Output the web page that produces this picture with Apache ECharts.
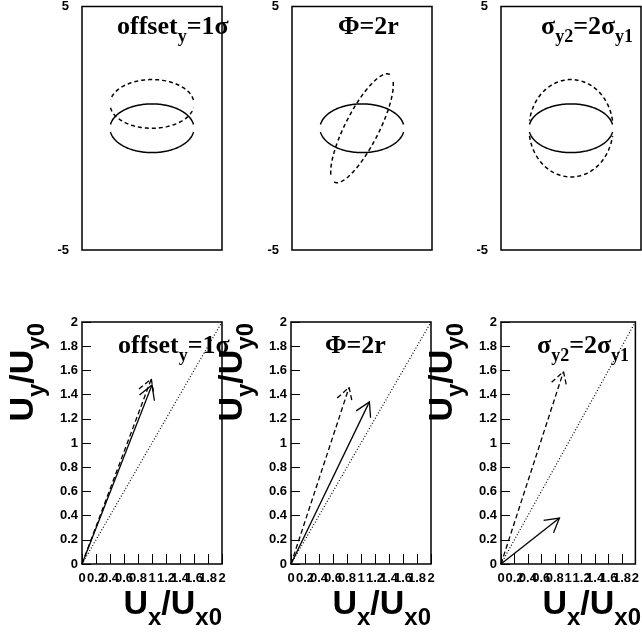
<!DOCTYPE html>
<html><head><meta charset="utf-8">
<script src="https://cdn.jsdelivr.net/npm/echarts@6/dist/echarts.min.js"></script>
<style>html,body{margin:0;padding:0;background:#fff}#c{width:642px;height:635px}</style>
</head><body><div id="c"></div>
<script>
// ---- data ----
const panelTitles = ['{m|offset}{s|y}{m|=1σ}', '{m|Φ=2r}', '{m|σ}{s|y2}{m|=2σ}{s|y1}'];
// ellipses: [centerX, centerY, sigmaX, sigmaY, angleDeg]
const ellipseSolid  = [[0, 0, 3, 1, 0], [0, 0, 3, 1, 0],  [0, 0, 3, 1, 0]];
const ellipseDashed = [[0, 1, 3, 1, 0], [0, 0, 3, 1, 45], [0, 0, 3, 2, 0]];
// arrows: [x0, y0, x1, y1]
const arrowSolid  = [[0, 0, 1.00, 1.48], [0, 0, 1.12, 1.34], [0, 0, 0.87, 0.38]];
const arrowDashed = [[0, 0, 0.99, 1.53], [0, 0, 0.83, 1.46], [0, 0, 0.93, 1.59]];
const diagonal = [[0, 0], [2, 2]];
const topRange = [-5, 5];
const bottomRange = [0, 2];
const bottomStep = 0.2;

// ---- layout ----
const topLefts = [82, 292, 501];
const botLefts = [82, 291, 501];
const PW = 140;
const labelPos = [[117, 14], [338, 14], [541, 14], [118, 333], [325, 333], [537, 333]];
const sans = 'Liberation Sans';
const serif = 'Liberation Serif';

const grids = [], xAxes = [], yAxes = [], series = [], graphics = [];
const GAP = 9;
function ellipseRender(dashed) {
  return function (params, api) {
    const cx = api.value(0), cy = api.value(1), sx = api.value(2), sy = api.value(3);
    const ang = api.value(4) * Math.PI / 180;
    const arcs = [[GAP, 180 - GAP], [180 + GAP, 360 - GAP]];
    const children = arcs.map(function (a) {
      const pts = [];
      for (let d = a[0]; d <= a[1] + 1e-9; d += 2) {
        const t = d * Math.PI / 180;
        const lx = sx * Math.cos(t), ly = sy * Math.sin(t);
        pts.push(api.coord([cx + lx * Math.cos(ang) - ly * Math.sin(ang), cy + lx * Math.sin(ang) + ly * Math.cos(ang)]));
      }
      return { type: 'polyline', shape: { points: pts },
        style: { stroke: '#000', fill: 'none', lineWidth: 1.5, lineDash: dashed ? [4, 3] : null } };
    });
    return { type: 'group', children: children };
  };
}
function arrowRender(dashed) {
  return function (params, api) {
    const p0 = api.coord([api.value(0), api.value(1)]);
    const p1 = api.coord([api.value(2), api.value(3)]);
    let dx = p0[0] - p1[0], dy = p0[1] - p1[1];
    const len = Math.hypot(dx, dy); dx /= len; dy /= len;
    const L = 16, a = 30 * Math.PI / 180;
    const b1 = [p1[0] + L * (dx * Math.cos(a) - dy * Math.sin(a)), p1[1] + L * (dx * Math.sin(a) + dy * Math.cos(a))];
    const b2 = [p1[0] + L * (dx * Math.cos(-a) - dy * Math.sin(-a)), p1[1] + L * (dx * Math.sin(-a) + dy * Math.cos(-a))];
    const st = { stroke: '#000', fill: 'none', lineWidth: 1.3, lineDash: dashed ? [5, 3] : null };
    return { type: 'group', children: [
      { type: 'line', shape: { x1: p0[0], y1: p0[1], x2: p1[0], y2: p1[1] }, style: st },
      { type: 'polyline', shape: { points: [b1, p1, b2] }, style: st }
    ] };
  };
}

for (let i = 0; i < 3; i++) {
  grids.push({ left: topLefts[i], top: 6, width: PW, height: 244, show: true, borderColor: '#000', borderWidth: 1.5, backgroundColor: 'transparent' });
  xAxes.push({ type: 'value', gridIndex: i, min: topRange[0], max: topRange[1], axisLine: { show: false }, axisTick: { show: false }, axisLabel: { show: false }, splitLine: { show: false } });
  yAxes.push({ type: 'value', gridIndex: i, min: topRange[0], max: topRange[1], interval: 10,
    axisLine: { show: false }, axisTick: { show: false }, splitLine: { show: false },
    axisLabel: { margin: 13, color: '#000', fontFamily: sans, fontWeight: 'bold', fontSize: 13 } });
  series.push({ type: 'custom', xAxisIndex: i, yAxisIndex: i, renderItem: ellipseRender(false), data: [ellipseSolid[i]], silent: true });
  series.push({ type: 'custom', xAxisIndex: i, yAxisIndex: i, renderItem: ellipseRender(true), data: [ellipseDashed[i]], silent: true });
}
for (let i = 0; i < 3; i++) {
  const gi = 3 + i;
  grids.push({ left: botLefts[i], top: 322, width: PW, height: 242, show: true, borderColor: '#000', borderWidth: 1.5, backgroundColor: 'transparent' });
  xAxes.push({ type: 'value', gridIndex: gi, min: bottomRange[0], max: bottomRange[1], interval: bottomStep,
    axisLine: { show: false }, splitLine: { show: false },
    axisTick: { show: true, inside: true, length: 10, lineStyle: { color: '#000', width: 1 } },
    axisLabel: { margin: 8, color: '#000', fontFamily: sans, fontWeight: 'bold', fontSize: 13, showMinLabel: true, showMaxLabel: true, hideOverlap: false } });
  yAxes.push({ type: 'value', gridIndex: gi, min: bottomRange[0], max: bottomRange[1], interval: bottomStep,
    axisLine: { show: false }, splitLine: { show: false },
    axisTick: { show: true, inside: true, length: 9, lineStyle: { color: '#000', width: 1 } },
    axisLabel: { margin: 4, color: '#000', fontFamily: sans, fontWeight: 'bold', fontSize: 13 } });
  series.push({ type: 'line', xAxisIndex: gi, yAxisIndex: gi, data: diagonal, symbol: 'none', silent: true,
    lineStyle: { color: '#000', width: 1.2, type: [1, 2] } });
  series.push({ type: 'custom', xAxisIndex: gi, yAxisIndex: gi, renderItem: arrowRender(false), data: [arrowSolid[i]], silent: true });
  series.push({ type: 'custom', xAxisIndex: gi, yAxisIndex: gi, renderItem: arrowRender(true), data: [arrowDashed[i]], silent: true });
}

const titleRich = {
  m: { fontFamily: serif, fontWeight: 'bold', fontSize: 26, color: '#000', verticalAlign: 'top' },
  s: { fontFamily: serif, fontWeight: 'bold', fontSize: 18, color: '#000', verticalAlign: 'top', padding: [14, 0, 0, 0] }
};
for (let k = 0; k < 6; k++) {
  graphics.push({ type: 'text', x: labelPos[k][0], y: labelPos[k][1], z: 100,
    style: { text: panelTitles[k % 3], rich: titleRich, align: 'left', verticalAlign: 'top', textAlign: 'left', textVerticalAlign: 'top' } });
}
const axRich = {
  m: { fontFamily: sans, fontWeight: 'bold', fontSize: 34, color: '#000', verticalAlign: 'top' },
  s: { fontFamily: sans, fontWeight: 'bold', fontSize: 24, color: '#000', verticalAlign: 'top', padding: [18, 0, 0, 0] }
};
for (let i = 0; i < 3; i++) {
  graphics.push({ type: 'text', x: botLefts[i] + PW, y: 588, z: 100,
    style: { text: '{m|U}{s|x}{m|/U}{s|x0}', rich: axRich, align: 'right', verticalAlign: 'top', textAlign: 'right', textVerticalAlign: 'top' } });
  graphics.push({ type: 'text', x: botLefts[i] - 75, y: 323, rotation: Math.PI / 2, z: 100,
    style: { text: '{m|U}{s|y}{m|/U}{s|y0}', rich: axRich, align: 'right', verticalAlign: 'top', textAlign: 'right', textVerticalAlign: 'top' } });
}

const chart = echarts.init(document.getElementById('c'), null, { renderer: 'canvas' });
chart.setOption({ animation: false, backgroundColor: '#fff', grid: grids, xAxis: xAxes, yAxis: yAxes, series: series, graphic: graphics });
</script></body></html>
